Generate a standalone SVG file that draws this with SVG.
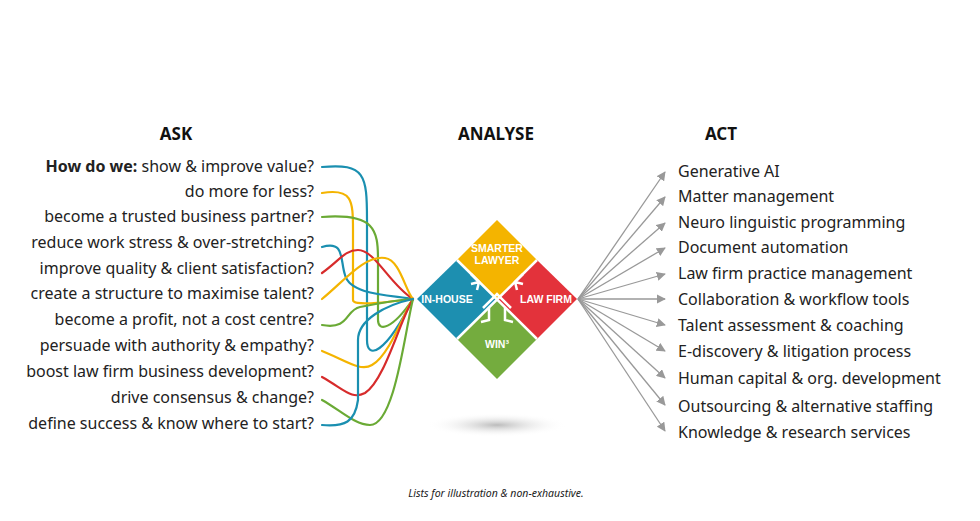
<svg xmlns="http://www.w3.org/2000/svg" width="980" height="521" viewBox="0 0 980 521">
<defs>
<style>
.t{font-family:"Noto Sans","Liberation Sans",sans-serif;font-size:16px;fill:#222}
.h{font-family:"Noto Sans","Liberation Sans",sans-serif;font-size:17px;font-weight:bold;fill:#111;text-anchor:middle}
.c{fill:none;stroke-width:2.2;stroke-linecap:round}
.b{stroke:#1a8fb0}.y{stroke:#f4b400}.g{stroke:#6aaa35}.r{stroke:#d72b2b}
.a{stroke:#999;stroke-width:1.3;fill:none;marker-end:url(#ah)}
.q{font-family:"Liberation Sans",sans-serif;font-weight:bold;font-size:10.5px;fill:#fff;text-anchor:middle}
.w{fill:none;stroke:#fff;stroke-width:2.5}
</style>
<marker id="ah" viewBox="0 0 10 10" refX="9" refY="5" markerWidth="7" markerHeight="7" orient="auto"><path d="M0,0L10,5L0,10z" fill="#999"/></marker>
<radialGradient id="sh"><stop offset="0" stop-color="#bbb"/><stop offset="1" stop-color="#fff" stop-opacity="0"/></radialGradient>
</defs>
<rect width="980" height="521" fill="#fff"/>
<text class="h" x="176" y="140">ASK</text>
<text class="h" x="496" y="140">ANALYSE</text>
<text class="h" x="721" y="140">ACT</text>
<g id="ask" class="t" text-anchor="end">
<text x="314" y="172"><tspan font-weight="bold">How do we:</tspan> show &amp; improve value?</text>
<text x="314" y="197">do more for less?</text>
<text x="314" y="222">become a trusted business partner?</text>
<text x="314" y="248">reduce work stress &amp; over-stretching?</text>
<text x="314" y="274">improve quality &amp; client satisfaction?</text>
<text x="314" y="299">create a structure to maximise talent?</text>
<text x="314" y="325">become a profit, not a cost centre?</text>
<text x="314" y="351">persuade with authority &amp; empathy?</text>
<text x="314" y="377">boost law firm business development?</text>
<text x="314" y="403">drive consensus &amp; change?</text>
<text x="314" y="429">define success &amp; know where to start?</text>
</g>
<g id="act" class="t">
<text x="678" y="177">Generative AI</text>
<text x="678" y="202">Matter management</text>
<text x="678" y="228">Neuro linguistic programming</text>
<text x="678" y="253">Document automation</text>
<text x="678" y="279">Law firm practice management</text>
<text x="678" y="305">Collaboration &amp; workflow tools</text>
<text x="678" y="331">Talent assessment &amp; coaching</text>
<text x="678" y="357">E-discovery &amp; litigation process</text>
<text x="678" y="384">Human capital &amp; org. development</text>
<text x="678" y="412">Outsourcing &amp; alternative staffing</text>
<text x="678" y="438">Knowledge &amp; research services</text>
</g>
<g id="connectors">
<path class="c b" d="M322,167 C365,163 367,175 367,220 L367,340 C367,360 385,355 413,299"/>
<path class="c y" d="M322,193 C352,188 353,200 353,230 L353,300 C353,306 380,303 413,299"/>
<path class="c g" d="M322,217 C375,213 378,230 378,260 L378,320 C378,332 392,330 413,299"/>
<path class="c b" d="M322,247 C345,240 340,260 345,275 C350,295 390,295 413,299"/>
<path class="c r" d="M322,273 C340,260 345,250 358,250 C375,250 390,285 413,299"/>
<path class="c y" d="M322,299 C345,280 365,255 385,258 C400,260 405,290 413,299"/>
<path class="c g" d="M322,325 C350,330 345,310 360,307 C385,302 400,300 413,299"/>
<path class="c y" d="M322,351 C345,360 360,372 372,365 C390,355 405,310 413,299"/>
<path class="c r" d="M322,377 C345,390 352,400 365,393 C385,380 400,320 413,299"/>
<path class="c g" d="M322,400 C340,410 355,425 370,425 C395,425 405,330 413,299"/>
<path class="c b" d="M322,425 C345,427 355,422 358,400 L358,340 C358,320 385,305 413,299"/>
<path class="a" d="M578,299L665,172"/><path class="a" d="M578,299L665,197"/><path class="a" d="M578,299L665,223"/>
<path class="a" d="M578,299L665,248"/><path class="a" d="M578,299L665,274"/><path class="a" d="M578,299L665,299"/>
<path class="a" d="M578,299L665,325"/><path class="a" d="M578,299L665,351"/><path class="a" d="M578,299L665,378"/>
<path class="a" d="M578,299L665,405"/><path class="a" d="M578,299L665,431"/>
</g>
<ellipse cx="497" cy="425" rx="70" ry="12" fill="url(#sh)"/>
<g id="analyse">
<path d="M497,220L537,260L497,300L457,260Z" fill="#f4b400"/>
<path d="M457,260L497,300L457,339L417,299Z" fill="#1d8fb0"/>
<path d="M537,260L577,299L537,339L497,300Z" fill="#e3323b"/>
<path d="M497,300L537,339L497,379L457,339Z" fill="#74ac3e"/>
<path class="w" d="M457,260L537,339M537,260L457,339"/>
<path class="w" d="M471,274L479,282L477,290M479,282L471,284"/>
<path class="w" d="M523,274L515,282L517,290M515,282L523,284"/>
<path class="w" d="M489,308L489,320L481,322M505,308L505,320L513,322M483,308L497,294L511,308"/>
<text class="q" x="497" y="252">SMARTER</text><text class="q" x="497" y="264">LAWYER</text>
<text class="q" x="447" y="303">IN-HOUSE</text>
<text class="q" x="546" y="303">LAW FIRM</text>
<text class="q" x="497" y="348">WIN³</text>
</g>
<text x="496" y="497" font-family="Noto Sans,Liberation Sans,sans-serif" font-size="10.5" font-style="italic" fill="#222" text-anchor="middle">Lists for illustration &amp; non-exhaustive.</text>
</svg>
